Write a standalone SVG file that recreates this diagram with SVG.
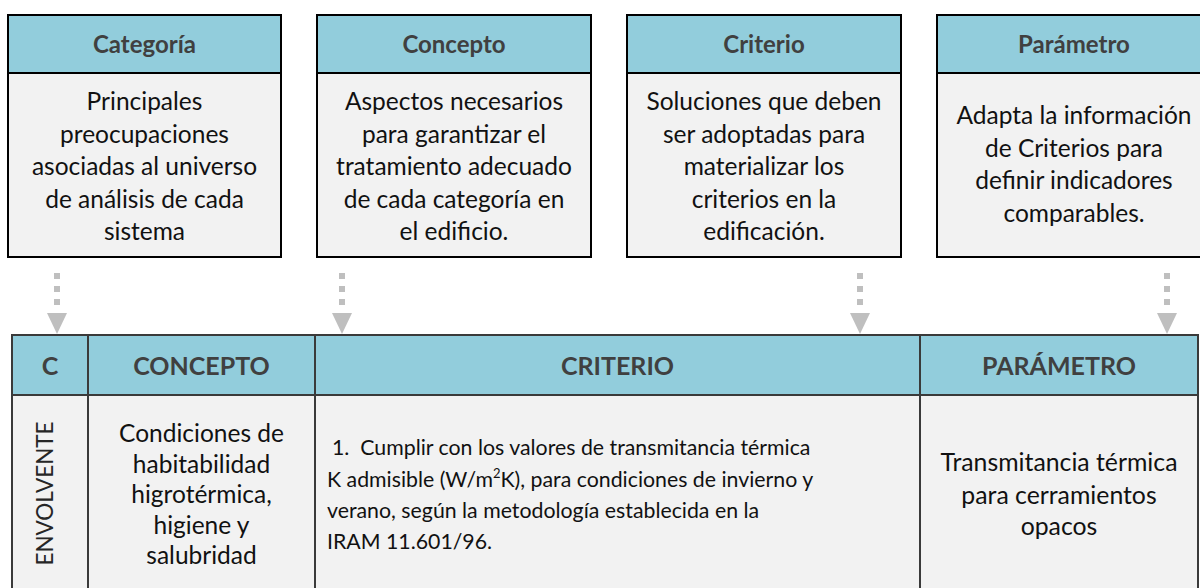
<svg xmlns="http://www.w3.org/2000/svg" width="1200" height="588" viewBox="0 0 1200 588">
<style>
.hd{fill:#92CDDC;stroke:#000;stroke-width:2}
.bd{fill:#F2F2F2;stroke:#000;stroke-width:2}
.th{fill:#92CDDC;stroke:#3a3a3a;stroke-width:2}
.tb{fill:#F2F2F2;stroke:#3a3a3a;stroke-width:2}
.ht{font-family:Lato,"Liberation Sans",sans-serif;font-weight:bold;font-size:24px;fill:#404040;text-anchor:middle}
.bt{font-family:Lato,"Liberation Sans",sans-serif;font-size:24.5px;fill:#111;text-anchor:middle}
.tht{font-family:Lato,"Liberation Sans",sans-serif;font-weight:bold;font-size:25px;fill:#404040;text-anchor:middle}
.ct{font-family:Lato,"Liberation Sans",sans-serif;font-size:21.3px;fill:#111;white-space:pre}
.dash{stroke:#BFBFBF;stroke-width:6;stroke-dasharray:6 7;fill:none}
.ah{fill:#BFBFBF}
</style>

<g id="node-categoria">
<rect class="hd" x="8" y="15" width="273" height="58"/>
<rect class="bd" x="8" y="73" width="273" height="184"/>
<text class="ht" x="144.5" y="53">Categoría</text>
<text class="bt" x="144.5" y="110">Principales</text>
<text class="bt" x="144.5" y="142.5">preocupaciones</text>
<text class="bt" x="144.5" y="175">asociadas al universo</text>
<text class="bt" x="144.5" y="207.5">de análisis de cada</text>
<text class="bt" x="144.5" y="240">sistema</text>
</g>

<g id="node-concepto">
<rect class="hd" x="317" y="15" width="274" height="58"/>
<rect class="bd" x="317" y="73" width="274" height="184"/>
<text class="ht" x="454" y="53">Concepto</text>
<text class="bt" x="454" y="110">Aspectos necesarios</text>
<text class="bt" x="454" y="142.5">para garantizar el</text>
<text class="bt" x="454" y="175">tratamiento adecuado</text>
<text class="bt" x="454" y="207.5">de cada categoría en</text>
<text class="bt" x="454" y="240">el edificio.</text>
</g>

<g id="node-criterio">
<rect class="hd" x="627" y="15" width="274" height="58"/>
<rect class="bd" x="627" y="73" width="274" height="184"/>
<text class="ht" x="764" y="53">Criterio</text>
<text class="bt" x="764" y="110">Soluciones que deben</text>
<text class="bt" x="764" y="142.5">ser adoptadas para</text>
<text class="bt" x="764" y="175">materializar los</text>
<text class="bt" x="764" y="207.5">criterios en la</text>
<text class="bt" x="764" y="240">edificación.</text>
</g>

<g id="node-parametro">
<rect class="hd" x="937" y="15" width="274" height="58"/>
<rect class="bd" x="937" y="73" width="274" height="184"/>
<text class="ht" x="1074" y="53">Parámetro</text>
<text class="bt" x="1074" y="124">Adapta la información</text>
<text class="bt" x="1074" y="157">de Criterios para</text>
<text class="bt" x="1074" y="189">definir indicadores</text>
<text class="bt" x="1074" y="222">comparables.</text>
</g>

<g id="connectors">
<line class="dash" x1="57" y1="273" x2="57" y2="310"/>
<polygon class="ah" points="47,313 67,313 57,334"/>
<line class="dash" x1="342" y1="273" x2="342" y2="310"/>
<polygon class="ah" points="332,313 352,313 342,334"/>
<line class="dash" x1="860" y1="273" x2="860" y2="310"/>
<polygon class="ah" points="850,313 870,313 860,334"/>
<line class="dash" x1="1167" y1="273" x2="1167" y2="310"/>
<polygon class="ah" points="1157,313 1177,313 1167,334"/>
</g>

<g id="table">
<rect class="th" x="12" y="335" width="76" height="60"/>
<rect class="th" x="88" y="335" width="227" height="60"/>
<rect class="th" x="315" y="335" width="605" height="60"/>
<rect class="th" x="920" y="335" width="278" height="60"/>
<rect class="tb" x="12" y="395" width="76" height="205"/>
<rect class="tb" x="88" y="395" width="227" height="205"/>
<rect class="tb" x="315" y="395" width="605" height="205"/>
<rect class="tb" x="920" y="395" width="278" height="205"/>
<text class="tht" x="50" y="375">C</text>
<text class="tht" x="201.5" y="375">CONCEPTO</text>
<text class="tht" x="617.5" y="375">CRITERIO</text>
<text class="tht" x="1059" y="375">PARÁMETRO</text>
<text class="bt" transform="translate(53,493.5) rotate(-90)" style="fill:#262626;font-size:22.5px">ENVOLVENTE</text>
<text class="bt" x="201.5" y="442">Condiciones de</text>
<text class="bt" x="201.5" y="472.5">habitabilidad</text>
<text class="bt" x="201.5" y="503">higrotérmica,</text>
<text class="bt" x="201.5" y="533.5">higiene y</text>
<text class="bt" x="201.5" y="564">salubridad</text>
<text class="ct" x="332" y="455">1.  Cumplir con los valores de transmitancia térmica</text>
<text class="ct" x="327" y="487">K admisible (W/m<tspan dy="-9" font-size="13">2</tspan><tspan dy="9">K), para condiciones de invierno y</tspan></text>
<text class="ct" x="327" y="518">verano, según la metodología establecida en la</text>
<text class="ct" x="327" y="549">IRAM 11.601/96.</text>
<text class="bt" x="1059" y="471" style="font-size:24.8px">Transmitancia térmica</text>
<text class="bt" x="1059" y="504" style="font-size:24.8px">para cerramientos</text>
<text class="bt" x="1059" y="535" style="font-size:24.8px">opacos</text>
</g>
</svg>
